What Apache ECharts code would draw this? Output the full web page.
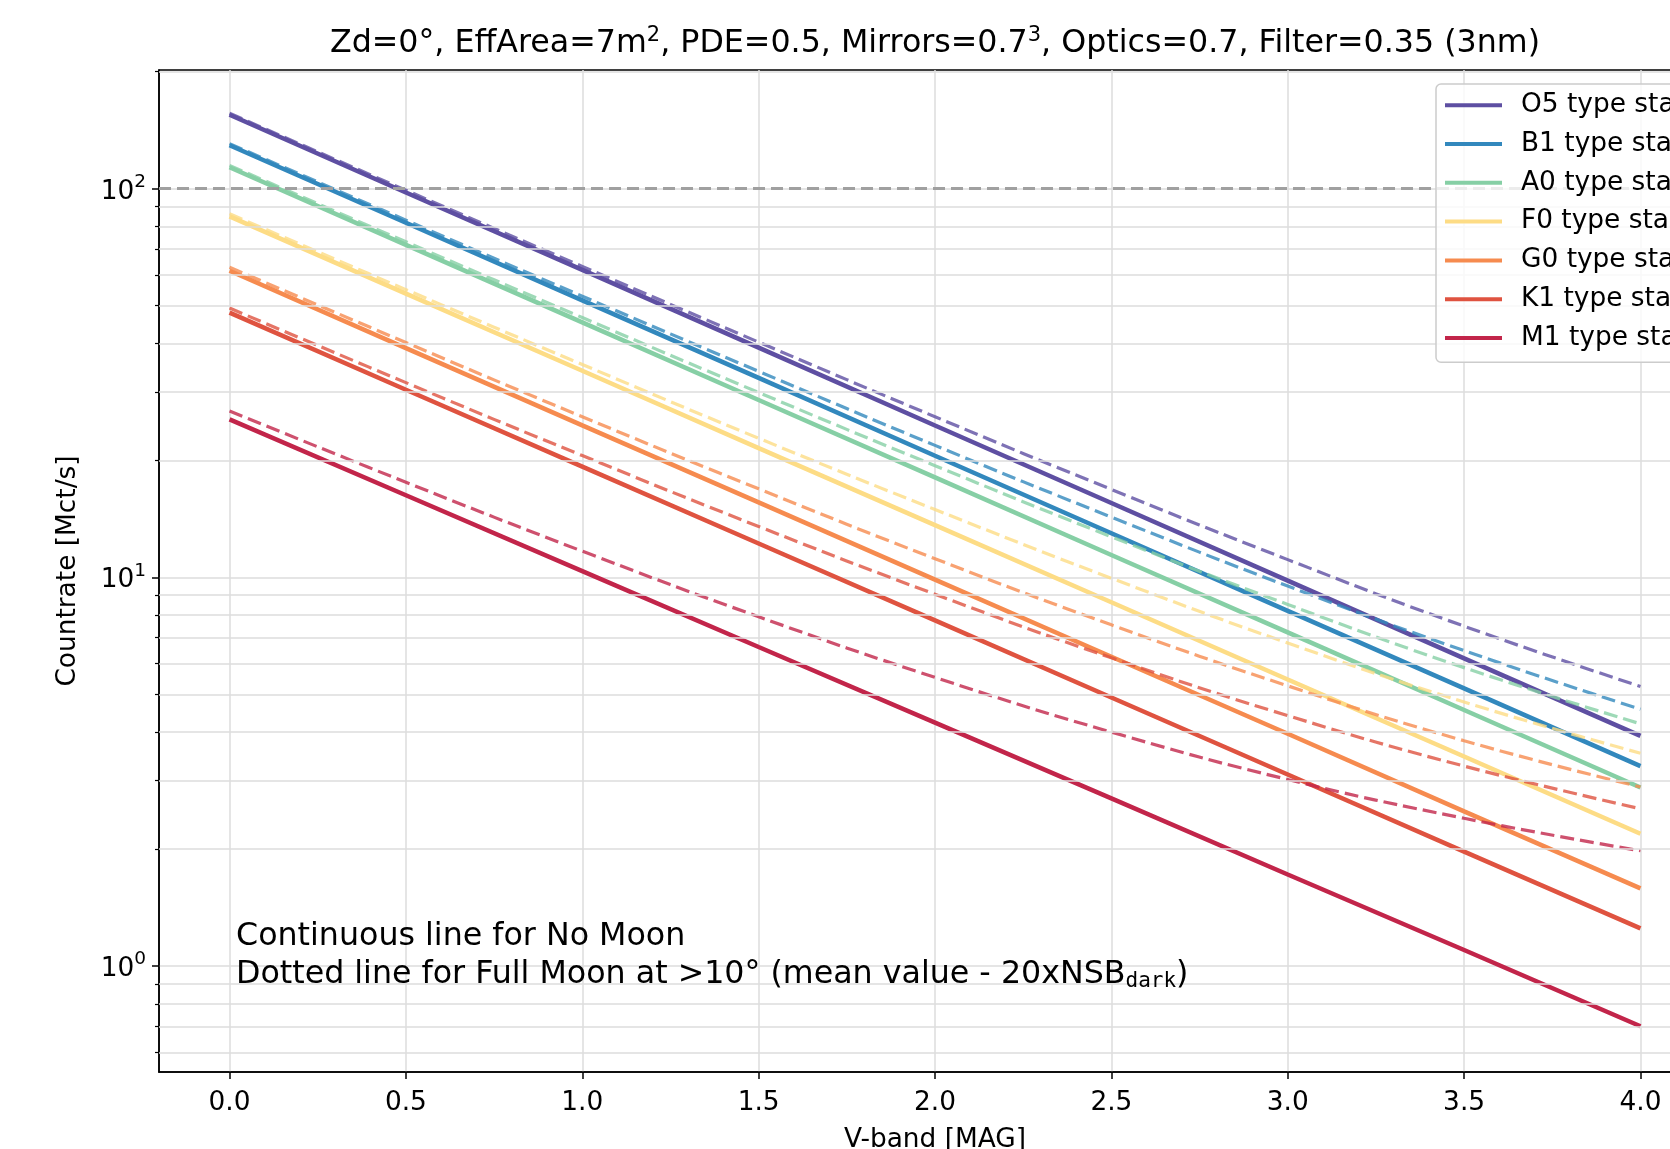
<!DOCTYPE html>
<html>
<head>
<meta charset="utf-8">
<script src="https://cdn.jsdelivr.net/npm/echarts@6/dist/echarts.min.js"></script>
<style>
html,body{margin:0;padding:0;background:#fff;}
#chart{width:1670px;height:1149px;}
</style>
</head>
<body>
<div id="chart"></div>
<script>
// ---- data ----
const V = [0, 0.5, 1.0, 1.5, 2.0, 2.5, 3.0, 3.5, 4.0];
const STARS = ['O5 type star', 'B1 type star', 'A0 type star', 'F0 type star', 'G0 type star', 'K1 type star', 'M1 type star'];
// No Moon (continuous)
const O5_NOMOON = [155.0, 97.8, 61.8, 39.0, 24.6, 15.54, 9.81, 6.19, 3.91];
const B1_NOMOON = [129.3, 81.7, 51.6, 32.6, 20.56, 12.99, 8.20, 5.18, 3.27];
const A0_NOMOON = [113.5, 71.7, 45.3, 28.6, 18.08, 11.42, 7.22, 4.56, 2.88];
const F0_NOMOON = [84.9, 53.7, 34.0, 21.5, 13.63, 8.63, 5.46, 3.46, 2.19];
const G0_NOMOON = [61.5, 38.9, 24.6, 15.6, 9.87, 6.25, 3.96, 2.50, 1.585];
const K1_NOMOON = [48.0, 30.4, 19.28, 12.22, 7.75, 4.91, 3.11, 1.97, 1.25];
const M1_NOMOON = [25.5, 16.27, 10.38, 6.62, 4.23, 2.70, 1.72, 1.10, 0.70];
// Full Moon (dashed)
const O5_FULLMOON = [156.3, 99.1, 63.1, 40.3, 25.9, 16.84, 11.11, 7.49, 5.24];
const B1_FULLMOON = [130.6, 83.0, 52.9, 33.9, 21.86, 14.29, 9.50, 6.48, 4.58];
const A0_FULLMOON = [114.8, 73.0, 46.6, 29.9, 19.38, 12.72, 8.52, 5.86, 4.20];
const F0_FULLMOON = [86.2, 55.0, 35.3, 22.8, 14.95, 9.95, 6.78, 4.78, 3.53];
const G0_FULLMOON = [62.8, 40.2, 25.9, 16.9, 11.17, 7.55, 5.26, 3.80, 2.89];
const K1_FULLMOON = [49.3, 31.7, 20.58, 13.52, 9.05, 6.21, 4.41, 3.27, 2.54];
const M1_FULLMOON = [26.8, 17.57, 11.68, 7.92, 5.53, 4.00, 3.02, 2.40, 1.98];
const NOMOON = [O5_NOMOON, B1_NOMOON, A0_NOMOON, F0_NOMOON, G0_NOMOON, K1_NOMOON, M1_NOMOON];
const FULLMOON = [O5_FULLMOON, B1_FULLMOON, A0_FULLMOON, F0_FULLMOON, G0_FULLMOON, K1_FULLMOON, M1_FULLMOON];
const X_TICKS = [0, 0.5, 1.0, 1.5, 2.0, 2.5, 3.0, 3.5, 4.0];
const Y_MAJOR = [1, 10, 100];
const Y_MINOR = [0.6, 0.7, 0.8, 0.9, 2, 3, 4, 5, 6, 7, 8, 9, 20, 30, 40, 50, 60, 70, 80, 90, 200];
const THRESHOLD = 100;

// ---- styles ----
const COLORS = ['#5e4fa2', '#3288bd', '#86cfa5', '#fddc85', '#f68b4f', '#df5340', '#c2254a'];
const FONT = 'DejaVu Sans';
const FS = 26.4;
const GRIDC = '#dddddd';

const series = [];
series.push({
  type: 'line', name: '_grid', data: [], z: 1, silent: true,
  markLine: {
    silent: true, symbol: 'none', label: {show: false}, animation: false,
    lineStyle: {color: GRIDC, width: 1.5, type: 'solid'},
    data: Y_MINOR.map(v => ({yAxis: v}))
  }
});
NOMOON.forEach((arr, i) => {
  series.push({
    type: 'line', name: STARS[i], color: COLORS[i], symbol: 'none', z: 3,
    lineStyle: {width: 4.5, color: COLORS[i]},
    data: V.map((v, j) => [v, arr[j]])
  });
});
FULLMOON.forEach((arr, i) => {
  series.push({
    type: 'line', name: STARS[i] + ' (Full Moon)', color: COLORS[i], symbol: 'none', z: 3,
    smooth: 0.45,
    lineStyle: {width: 3.2, color: COLORS[i], type: [14, 6], opacity: 0.8},
    data: V.map((v, j) => [v, arr[j]])
  });
});
series.push({
  type: 'line', name: '_thr', data: [], z: 4, silent: true,
  markLine: {
    silent: true, symbol: 'none', label: {show: false}, animation: false,
    lineStyle: {color: '#a0a0a0', width: 3, type: [12, 6]},
    data: [{yAxis: THRESHOLD}]
  }
});

const chart = echarts.init(document.getElementById('chart'), null, {renderer: 'canvas'});
chart.setOption({
  animation: false,
  backgroundColor: '#ffffff',
  textStyle: {fontFamily: FONT},
  grid: {left: 159, top: 70, width: 1552, height: 1002, show: true, borderColor: '#000', borderWidth: 1.5,
         containLabel: false, outerBoundsMode: 'none'},
  xAxis: {
    type: 'value', min: -0.2, max: 4.2, splitNumber: 9,
    axisLine: {show: true, onZero: false, lineStyle: {color: '#000', width: 1.5}},
    axisTick: {show: true, length: 7, lineStyle: {color: '#000', width: 1.5}, customValues: X_TICKS},
    axisLabel: {
      fontFamily: FONT, fontSize: FS, color: '#000', margin: 18,
      customValues: X_TICKS,
      formatter: v => v.toFixed(1)
    },
    splitLine: {show: true, lineStyle: {color: GRIDC, width: 1.5}},
    name: 'V-band [MAG]', nameLocation: 'middle', nameGap: 55,
    nameTextStyle: {fontFamily: FONT, fontSize: FS, color: '#000'}
  },
  yAxis: [{
    type: 'log', logBase: 10, min: 0.534, max: 202,
    axisLine: {show: true, onZero: false, lineStyle: {color: '#000', width: 1.5}},
    axisTick: {show: true, length: 7, lineStyle: {color: '#000', width: 1.5}, customValues: Y_MAJOR},
    axisLabel: {
      fontFamily: FONT, color: '#000', margin: 13,
      customValues: Y_MAJOR,
      formatter: v => '{b|10}{s|' + Math.round(Math.log10(v)) + '}',
      rich: {
        b: {fontFamily: FONT, fontSize: FS, color: '#000', padding: [6, 0, 0, 0]},
        s: {fontFamily: FONT, fontSize: 18.5, color: '#000', verticalAlign: 'top', padding: [0, 0, 8, 0]}
      }
    },
    splitLine: {show: true, lineStyle: {color: GRIDC, width: 1.5}},
    name: 'Countrate [Mct/s]', nameLocation: 'middle', nameGap: 78, nameRotate: 90,
    nameTextStyle: {fontFamily: FONT, fontSize: FS, color: '#000'}
  }, {
    type: 'log', logBase: 10, min: 0.534, max: 202, position: 'left',
    axisLine: {show: false, onZero: false},
    axisTick: {show: true, length: 4, lineStyle: {color: '#000', width: 1.2}, customValues: Y_MINOR},
    axisLabel: {show: false},
    splitLine: {show: false}
  }],
  legend: {
    data: STARS, orient: 'vertical', left: 1436, top: 84, z: 20,
    icon: 'rect', itemWidth: 57, itemHeight: 4, itemGap: 12.4,
    padding: [8, 10, 11, 9],
    backgroundColor: 'rgba(255,255,255,0.8)', borderColor: '#cccccc', borderWidth: 1.5, borderRadius: 5,
    textStyle: {fontFamily: FONT, fontSize: FS, color: '#000', lineHeight: 26.4, padding: [0, 0, 0, 14]}
  },
  graphic: [{
    type: 'text', x: 935, y: 44, z: 10,
    style: {
      text: 'Zd=0°, EffArea=7m{sup|2}, PDE=0.5, Mirrors=0.7{sup|3}, Optics=0.7, Filter=0.35 (3nm)',
      textAlign: 'center', textVerticalAlign: 'middle',
      font: '31.7px "DejaVu Sans"', fill: '#000',
      rich: {sup: {fontSize: 21, fontFamily: FONT, fill: '#000', padding: [0, 0, 16, 0]}}
    }
  }, {
    type: 'text', x: 236, y: 918, z: 10,
    style: {
      text: 'Continuous line for No Moon\nDotted line for Full Moon at >10° (mean value - 20xNSB{sub|dark})',
      font: '31.7px "DejaVu Sans"', fill: '#000', lineHeight: 38,
      rich: {sub: {fontSize: 21, fontFamily: 'DejaVu Sans Mono', fill: '#000', padding: [14, 0, 0, 0]}}
    }
  }],
  series: series
});
</script>
</body>
</html>
